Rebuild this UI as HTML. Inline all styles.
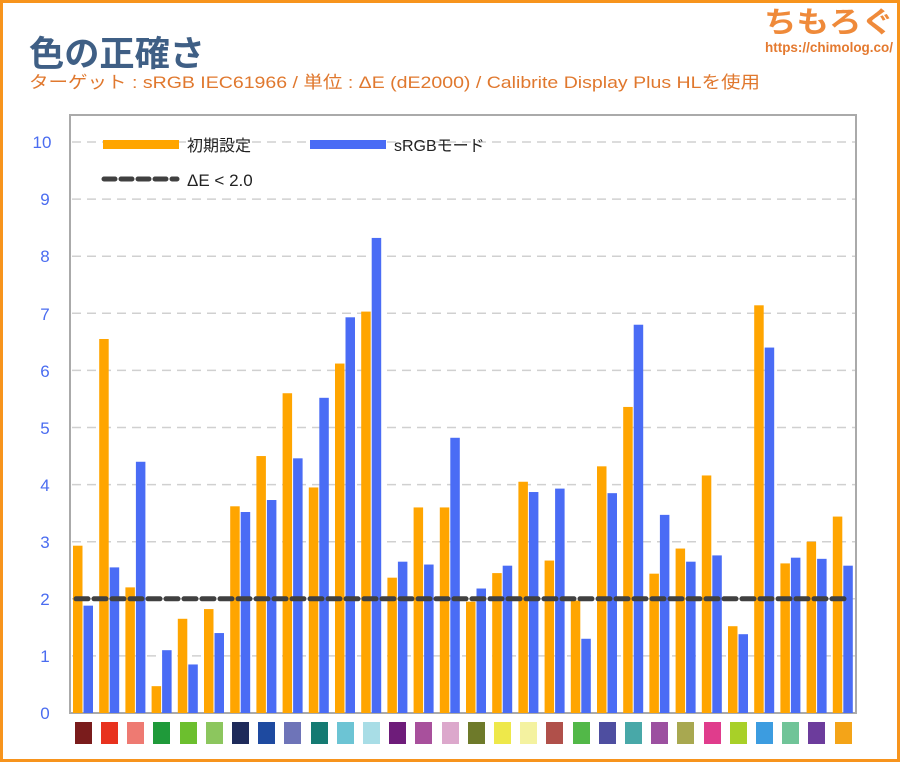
<!DOCTYPE html>
<html><head><meta charset="utf-8"><style>
body{margin:0;background:#fff}
svg{display:block}
text{font-family:"Liberation Sans","Noto Sans CJK JP",sans-serif}
</style></head><body>
<svg width="900" height="762" viewBox="0 0 900 762" xmlns="http://www.w3.org/2000/svg">
<rect x="1.5" y="1.5" width="897" height="759" fill="#fff" stroke="#f7941d" stroke-width="3"/>
<text x="29" y="66" font-size="35" font-weight="bold" fill="#3f5f85" font-family="'Noto Sans CJK JP',sans-serif" textLength="176" lengthAdjust="spacingAndGlyphs">色の正確さ</text>
<text x="29" y="88" font-size="17" fill="#e0782e" textLength="731" lengthAdjust="spacingAndGlyphs">ターゲット : sRGB IEC61966 / 単位 : ΔE (dE2000) / Calibrite Display Plus HLを使用</text>
<text x="764" y="32" font-size="29" font-weight="bold" fill="#ef8a3a" font-family="'Noto Sans CJK JP',sans-serif" textLength="130" lengthAdjust="spacingAndGlyphs">ちもろぐ</text>
<text x="765" y="52" font-size="14" font-weight="bold" fill="#e47a30" textLength="128" lengthAdjust="spacingAndGlyphs">https://chimolog.co/</text>
<rect x="70" y="115" width="786" height="598" fill="#fff" stroke="#aaa" stroke-width="2"/>
<g stroke="#d0d0d0" stroke-width="1.5" stroke-dasharray="9,6">
<line x1="72" x2="855" y1="655.9" y2="655.9"/><line x1="72" x2="855" y1="598.8" y2="598.8"/>
<line x1="72" x2="855" y1="541.7" y2="541.7"/><line x1="72" x2="855" y1="484.6" y2="484.6"/>
<line x1="72" x2="855" y1="427.5" y2="427.5"/><line x1="72" x2="855" y1="370.4" y2="370.4"/>
<line x1="72" x2="855" y1="313.3" y2="313.3"/><line x1="72" x2="855" y1="256.2" y2="256.2"/>
<line x1="72" x2="855" y1="199.1" y2="199.1"/><line x1="72" x2="855" y1="142" y2="142"/>
</g>
<g fill="#4a6cf0" font-size="17" text-anchor="middle">
<text x="45" y="719">0</text><text x="45" y="662">1</text><text x="45" y="605">2</text>
<text x="45" y="548">3</text><text x="45" y="491">4</text><text x="45" y="434">5</text>
<text x="45" y="377">6</text><text x="45" y="320">7</text><text x="45" y="262">8</text>
<text x="45" y="205">9</text><text x="42" y="148">10</text>
</g>
<g transform="translate(0,713) scale(1,-57.1)">
<g fill="#ffa500">
<rect x="73" y="0" width="9.5" height="2.93"/><rect x="99.2" y="0" width="9.5" height="6.55"/>
<rect x="125.4" y="0" width="9.5" height="2.2"/><rect x="151.6" y="0" width="9.5" height="0.47"/>
<rect x="177.8" y="0" width="9.5" height="1.65"/><rect x="204" y="0" width="9.5" height="1.82"/>
<rect x="230.2" y="0" width="9.5" height="3.62"/><rect x="256.4" y="0" width="9.5" height="4.5"/>
<rect x="282.6" y="0" width="9.5" height="5.6"/><rect x="308.8" y="0" width="9.5" height="3.95"/>
<rect x="335" y="0" width="9.5" height="6.12"/><rect x="361.2" y="0" width="9.5" height="7.03"/>
<rect x="387.4" y="0" width="9.5" height="2.37"/><rect x="413.6" y="0" width="9.5" height="3.6"/>
<rect x="439.8" y="0" width="9.5" height="3.6"/><rect x="466" y="0" width="9.5" height="1.95"/>
<rect x="492.2" y="0" width="9.5" height="2.45"/><rect x="518.4" y="0" width="9.5" height="4.05"/>
<rect x="544.6" y="0" width="9.5" height="2.67"/><rect x="570.8" y="0" width="9.5" height="1.97"/>
<rect x="597" y="0" width="9.5" height="4.32"/><rect x="623.2" y="0" width="9.5" height="5.36"/>
<rect x="649.4" y="0" width="9.5" height="2.44"/><rect x="675.6" y="0" width="9.5" height="2.88"/>
<rect x="701.8" y="0" width="9.5" height="4.16"/><rect x="728" y="0" width="9.5" height="1.52"/>
<rect x="754.2" y="0" width="9.5" height="7.14"/><rect x="780.4" y="0" width="9.5" height="2.62"/>
<rect x="806.6" y="0" width="9.5" height="3.0"/><rect x="832.8" y="0" width="9.5" height="3.44"/>
</g>
<g fill="#4a6cf5">
<rect x="83.5" y="0" width="9.5" height="1.88"/><rect x="109.7" y="0" width="9.5" height="2.55"/>
<rect x="135.9" y="0" width="9.5" height="4.4"/><rect x="162.1" y="0" width="9.5" height="1.1"/>
<rect x="188.3" y="0" width="9.5" height="0.85"/><rect x="214.5" y="0" width="9.5" height="1.4"/>
<rect x="240.7" y="0" width="9.5" height="3.52"/><rect x="266.9" y="0" width="9.5" height="3.73"/>
<rect x="293.1" y="0" width="9.5" height="4.46"/><rect x="319.3" y="0" width="9.5" height="5.52"/>
<rect x="345.5" y="0" width="9.5" height="6.93"/><rect x="371.7" y="0" width="9.5" height="8.32"/>
<rect x="397.9" y="0" width="9.5" height="2.65"/><rect x="424.1" y="0" width="9.5" height="2.6"/>
<rect x="450.3" y="0" width="9.5" height="4.82"/><rect x="476.5" y="0" width="9.5" height="2.18"/>
<rect x="502.7" y="0" width="9.5" height="2.58"/><rect x="528.9" y="0" width="9.5" height="3.87"/>
<rect x="555.1" y="0" width="9.5" height="3.93"/><rect x="581.3" y="0" width="9.5" height="1.3"/>
<rect x="607.5" y="0" width="9.5" height="3.85"/><rect x="633.7" y="0" width="9.5" height="6.8"/>
<rect x="659.9" y="0" width="9.5" height="3.47"/><rect x="686.1" y="0" width="9.5" height="2.65"/>
<rect x="712.3" y="0" width="9.5" height="2.76"/><rect x="738.5" y="0" width="9.5" height="1.38"/>
<rect x="764.7" y="0" width="9.5" height="6.4"/><rect x="790.9" y="0" width="9.5" height="2.72"/>
<rect x="817.1" y="0" width="9.5" height="2.7"/><rect x="843.3" y="0" width="9.5" height="2.58"/>
</g>
</g>
<line x1="76" x2="850" y1="598.8" y2="598.8" stroke="#404040" stroke-width="5" stroke-dasharray="12,6" stroke-linecap="round"/>
<rect x="103" y="140" width="76" height="9" fill="#ffa500"/>
<text x="187" y="151" font-size="16" fill="#222">初期設定</text>
<rect x="310" y="140" width="76" height="9" fill="#4a6cf5"/>
<text x="394" y="151" font-size="16" fill="#222">sRGBモード</text>
<line x1="104" x2="177" y1="179" y2="179" stroke="#404040" stroke-width="5" stroke-dasharray="11,6" stroke-linecap="round"/>
<text x="187" y="186" font-size="17" fill="#222">ΔE &lt; 2.0</text>
<g>
<rect x="75" y="722" width="17" height="22" fill="#7a1c1c"/><rect x="101" y="722" width="17" height="22" fill="#e8321e"/>
<rect x="127" y="722" width="17" height="22" fill="#ee7a72"/><rect x="153" y="722" width="17" height="22" fill="#1f9a3a"/>
<rect x="180" y="722" width="17" height="22" fill="#6cbf2e"/><rect x="206" y="722" width="17" height="22" fill="#8cc65e"/>
<rect x="232" y="722" width="17" height="22" fill="#1e2a5a"/><rect x="258" y="722" width="17" height="22" fill="#1e4aa0"/>
<rect x="284" y="722" width="17" height="22" fill="#6e74b8"/><rect x="311" y="722" width="17" height="22" fill="#147a72"/>
<rect x="337" y="722" width="17" height="22" fill="#6cc4d4"/><rect x="363" y="722" width="17" height="22" fill="#a8dde6"/>
<rect x="389" y="722" width="17" height="22" fill="#6e1c7a"/><rect x="415" y="722" width="17" height="22" fill="#a8509c"/>
<rect x="442" y="722" width="17" height="22" fill="#dca8cc"/><rect x="468" y="722" width="17" height="22" fill="#6e7a2a"/>
<rect x="494" y="722" width="17" height="22" fill="#eee84a"/><rect x="520" y="722" width="17" height="22" fill="#f4f2a0"/>
<rect x="546" y="722" width="17" height="22" fill="#b0504a"/><rect x="573" y="722" width="17" height="22" fill="#52b848"/>
<rect x="599" y="722" width="17" height="22" fill="#4e4ea0"/><rect x="625" y="722" width="17" height="22" fill="#48a8a8"/>
<rect x="651" y="722" width="17" height="22" fill="#9c50a0"/><rect x="677" y="722" width="17" height="22" fill="#a8a850"/>
<rect x="704" y="722" width="17" height="22" fill="#e03c8c"/><rect x="730" y="722" width="17" height="22" fill="#a8d028"/>
<rect x="756" y="722" width="17" height="22" fill="#3c9ce0"/><rect x="782" y="722" width="17" height="22" fill="#70c498"/>
<rect x="808" y="722" width="17" height="22" fill="#6c3c9c"/><rect x="835" y="722" width="17" height="22" fill="#f4a418"/>
</g>
</svg>
</body></html>
